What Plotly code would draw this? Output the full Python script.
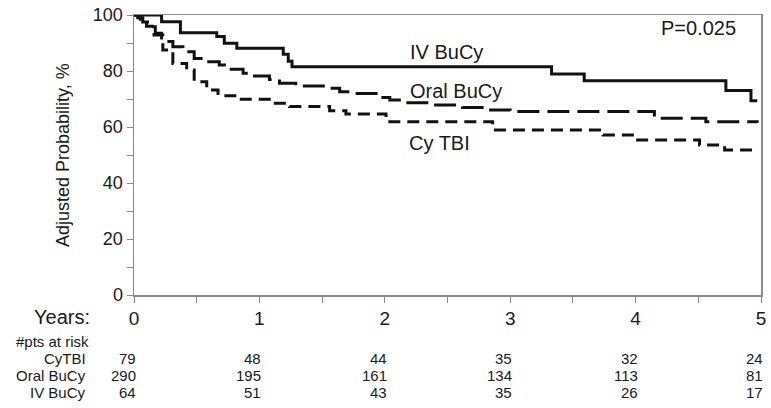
import plotly.graph_objects as go

# ---- data ----
iv_t = [0, 0.22, 0.37, 0.66, 0.72, 0.82, 1.19, 1.23, 1.26, 3.33, 3.59, 4.72, 4.92, 4.97]
iv_s = [100, 97.6, 93.7, 92.3, 89.9, 88.1, 86.0, 83.5, 81.5, 78.9, 76.5, 73.0, 69.4, 69.4]

oral_t = [0, 0.03, 0.07, 0.12, 0.17, 0.22, 0.31, 0.39, 0.48, 0.55, 0.68, 0.76, 0.87, 0.94,
          1.08, 1.16, 1.29, 1.53, 1.64, 1.75, 1.96, 2.04, 2.14, 2.36, 2.62, 2.81, 3.0,
          4.03, 4.15, 4.56, 4.97]
oral_s = [100, 99, 97.5, 95.8, 93.5, 90.5, 88.7, 86.9, 84.5, 83.3, 82.1, 80.6, 79.2, 78.2,
          77.0, 75.6, 74.6, 73.8, 72.6, 72.0, 70.5, 69.6, 68.7, 67.9, 67.0, 66.1, 65.5,
          65.5, 63.1, 61.9, 61.5]

tbi_t = [0, 0.05, 0.1, 0.16, 0.23, 0.31, 0.42, 0.48, 0.58, 0.67, 0.82, 1.1, 1.24, 1.56,
         1.69, 2.01, 2.86, 3.74, 4.0, 4.51, 4.71, 4.97]
tbi_s = [100, 98.5, 96, 92.9, 87.5, 82.7, 80.4, 76.2, 73.2, 71.2, 69.9, 68.5, 67.3, 65.8,
         64.6, 61.9, 58.9, 57.1, 55.4, 53.6, 51.8, 51.8]

year_ticks = [0, 1, 2, 3, 4, 5]
prob_ticks = [0, 20, 40, 60, 80, 100]

risk_groups = ["CyTBI", "Oral BuCy", "IV BuCy"]
risk_cytbi = [79, 48, 44, 35, 32, 24]
risk_oral = [290, 195, 161, 134, 113, 81]
risk_iv = [64, 51, 43, 35, 26, 17]

curve_labels = ["IV BuCy", "Oral BuCy", "Cy TBI"]
curve_label_x = [2.49, 2.57, 2.44]
curve_label_y = [86.8, 73.0, 54.3]
p_text = "P=0.025"

# ---- figure ----
FONT = "Liberation Sans, Arial, sans-serif"
INK = "#1a1a1a"
AX = "#8a8a8a"

fig = go.Figure()
line_style = dict(color="#111111", width=3, shape="hv")
fig.add_trace(go.Scatter(x=iv_t, y=iv_s, mode="lines", line=dict(**line_style, dash="solid"),
                         hoverinfo="skip", cliponaxis=False))
fig.add_trace(go.Scatter(x=oral_t, y=oral_s, mode="lines", line=dict(**line_style, dash="22px,8px"),
                         hoverinfo="skip", cliponaxis=False))
fig.add_trace(go.Scatter(x=tbi_t, y=tbi_s, mode="lines", line=dict(**line_style, dash="12px,7px"),
                         hoverinfo="skip", cliponaxis=False))

ann = []
for txt, x, y in zip(curve_labels, curve_label_x, curve_label_y):
    ann.append(dict(x=x, y=y, xref="x", yref="y", text=txt, showarrow=False,
                    font=dict(family=FONT, size=20, color=INK), xanchor="center", yanchor="middle"))
ann.append(dict(x=4.5, y=95.4, xref="x", yref="y", text=p_text, showarrow=False,
                font=dict(family=FONT, size=20, color=INK), xanchor="center", yanchor="middle"))

# y-axis title
ann.append(dict(x=0, y=0.5, xref="paper", yref="paper", xshift=-71, text="Adjusted Probability, %",
                textangle=-90, showarrow=False, font=dict(family=FONT, size=18, color=INK),
                xanchor="center", yanchor="middle"))
# Years:
ann.append(dict(x=0, y=0, xref="paper", yref="paper", xshift=-42, yshift=-22, text="Years:",
                showarrow=False, font=dict(family=FONT, size=20, color=INK),
                xanchor="right", yanchor="middle"))
# at-risk table
ann.append(dict(x=0, y=0, xref="paper", yref="paper", xshift=-120, yshift=-46, text="#pts at risk",
                showarrow=False, font=dict(family=FONT, size=15, color=INK),
                xanchor="left", yanchor="middle"))
row_shifts = [-63, -80, -97]
for grp, vals, ys in zip(risk_groups, [risk_cytbi, risk_oral, risk_iv], row_shifts):
    ann.append(dict(x=0, y=0, xref="paper", yref="paper", xshift=-46, yshift=ys, text=grp,
                    showarrow=False, font=dict(family=FONT, size=15, color=INK),
                    xanchor="right", yanchor="middle"))
    for tx, v in zip(year_ticks, vals):
        ann.append(dict(x=tx, y=0, xref="x", yref="paper", xshift=4, yshift=ys, text=str(v),
                        showarrow=False, font=dict(family=FONT, size=15, color=INK),
                        xanchor="right", yanchor="middle"))

fig.update_layout(
    width=771, height=408,
    margin=dict(l=134, r=10, t=15, b=113, autoexpand=False),
    paper_bgcolor="white", plot_bgcolor="white",
    showlegend=False,
    annotations=ann,
    xaxis=dict(range=[0, 5], tickvals=year_ticks, ticks="outside", ticklen=6, tickcolor=AX,
               showline=True, linecolor=AX, linewidth=1.5, mirror=True, showgrid=False,
               zeroline=False, automargin=False, tickfont=dict(family=FONT, size=19, color=INK),
               minor=dict(tickvals=[0.5, 1.5, 2.5, 3.5, 4.5], ticks="outside", ticklen=6, tickcolor=AX)),
    yaxis=dict(range=[0, 100], tickvals=prob_ticks, ticks="outside", ticklen=6, tickcolor=AX,
               showline=True, linecolor=AX, linewidth=1.5, mirror=True, showgrid=False,
               zeroline=False, automargin=False, tickfont=dict(family=FONT, size=18, color=INK),
               minor=dict(tickvals=[10, 30, 50, 70, 90], ticks="outside", ticklen=6, tickcolor=AX)),
)

fig.write_html("out.html", config={"displayModeBar": False, "staticPlot": True},
               post_script="document.body.style.margin='0';document.body.style.overflow='hidden';")
